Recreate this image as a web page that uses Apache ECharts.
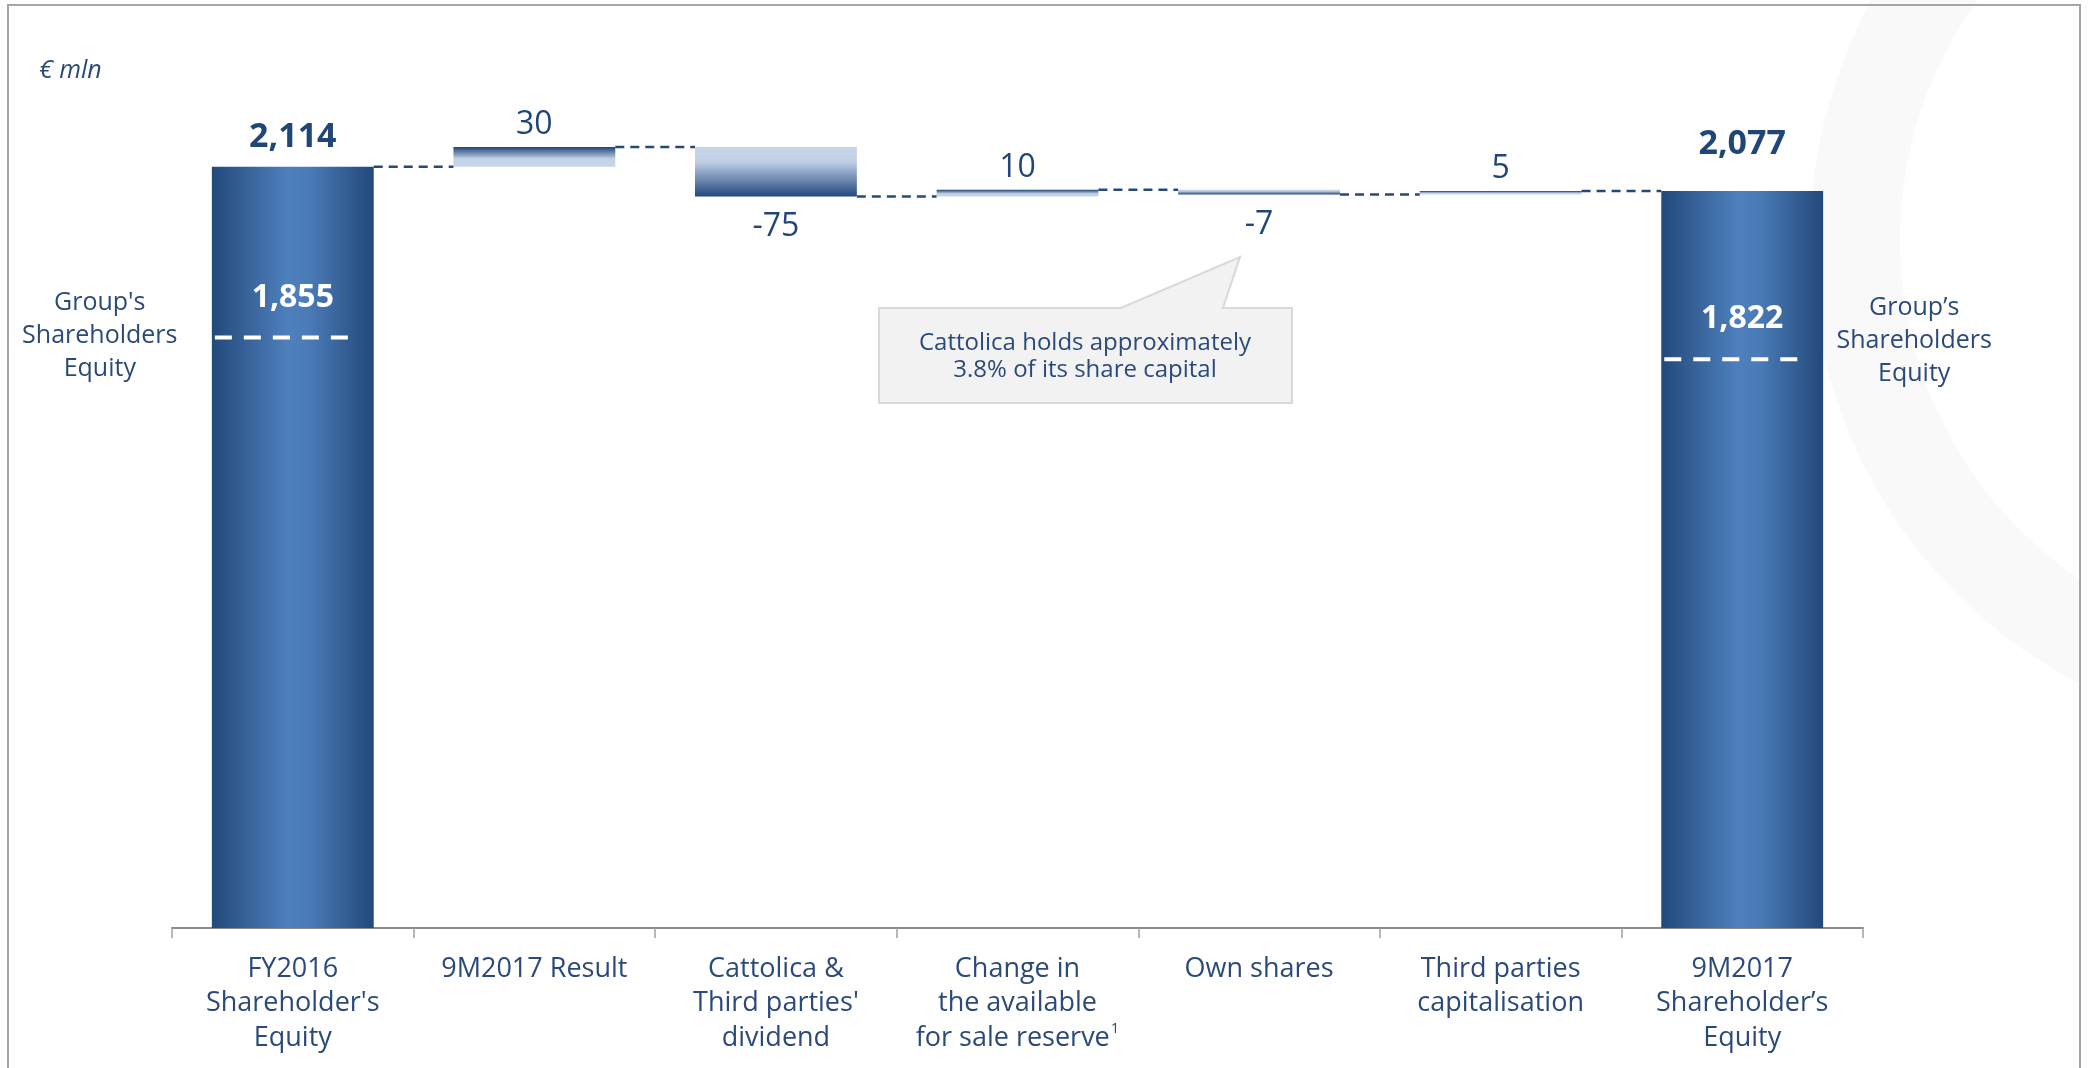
<!DOCTYPE html>
<html><head><meta charset="utf-8">
<script src="https://cdn.jsdelivr.net/npm/echarts@6/dist/echarts.min.js"></script>
<style>html,body{margin:0;padding:0;background:#fff}#c{width:2089px;height:1068px}</style>
</head><body><div id="c"></div><script>
// ---- data ----
const categories = ["FY2016\nShareholder's\nEquity", "9M2017 Result", "Cattolica &\nThird parties'\ndividend", "Change in\nthe available\nfor sale reserve{sup|1}", "Own shares", "Third parties\ncapitalisation", "9M2017\nShareholder\u2019s\nEquity"];
const startValue = 2114;
const changes = [30, -75, 10, -7, 5];
const endValue = 2077;
const groupEquityValues = [1855, 1822];
const groupEquityLabels = ["Group's\nShareholders\nEquity", "Group\u2019s\nShareholders\nEquity"];
const unitLabel = "\u20ac mln";
const calloutText = "Cattolica holds approximately\n3.8% of its share capital";

// ---- build waterfall ----
const NAVY = '#1f4677';
const TXT = '#2b4a7a';
const FONT = '"Open Sans", Lato, sans-serif';
const fmt = v => v.toLocaleString('en-US');

const totalGrad = new echarts.graphic.LinearGradient(0, 0, 1, 0, [
  {offset: 0, color: '#23497b'}, {offset: 0.47, color: '#4e80bd'},
  {offset: 0.6, color: '#4a7bb7'}, {offset: 1, color: '#23497b'}]);
const posGrad = new echarts.graphic.LinearGradient(0, 0, 0, 1, [
  {offset: 0, color: '#1c4275'}, {offset: 0.6, color: '#c3d2e6'}, {offset: 1, color: '#c6d5e9'}]);
const negGrad = new echarts.graphic.LinearGradient(0, 0, 0, 1, [
  {offset: 0, color: '#c6d5e9'}, {offset: 0.3, color: '#bfcfe5'}, {offset: 1, color: '#22487e'}]);

const totalLabel = (v, dist) => ({show: true, position: 'top', distance: dist, formatter: fmt(v),
  fontSize: 34, fontWeight: 'bold', color: NAVY});

const baseData = [0];
const visData = [{value: startValue, itemStyle: {color: totalGrad}, label: totalLabel(startValue, 12)}];
const levels = [startValue];
let run = startValue;
changes.forEach(c => {
  const lo = c >= 0 ? run : run + c;
  baseData.push(lo);
  visData.push({value: Math.abs(c), itemStyle: {color: c >= 0 ? posGrad : negGrad},
    label: {show: true, position: c >= 0 ? 'top' : 'bottom', distance: c >= 0 ? 6 : 14,
      formatter: String(c), fontSize: 32, color: NAVY}});
  run += c;
  levels.push(run);
});
baseData.push(0);
visData.push({value: endValue, itemStyle: {color: totalGrad}, label: totalLabel(endValue, 30)});

const connectorData = levels.map((v, i) => [i, v]);
const equityData = [[0, groupEquityValues[0], -1], [categories.length - 1, groupEquityValues[1], 1]];

const BARW = 0.67;
const chart = echarts.init(document.getElementById('c'), null, {renderer: 'canvas'});
chart.setOption({
  animation: false,
  backgroundColor: '#ffffff',
  textStyle: {fontFamily: FONT},
  grid: {left: 172, right: 226, top: 44, bottom: 140},
  xAxis: {
    type: 'category', data: categories,
    axisLine: {lineStyle: {color: '#8c8c8c', width: 2}},
    axisTick: {show: true, length: 10, lineStyle: {color: '#a0a0a0', width: 1.5}},
    axisLabel: {interval: 0, color: TXT, fontSize: 27, lineHeight: 34.5, margin: 24, fontFamily: FONT,
      rich: {sup: {fontSize: 15, color: TXT, verticalAlign: 'top', lineHeight: 34.5, padding: [0, 0, 12, 1]}}}
  },
  yAxis: {type: 'value', min: 960, max: 2300, show: false, splitLine: {show: false}},
  series: [
    {type: 'bar', stack: 'wf', data: baseData, barWidth: (BARW * 100) + '%',
      itemStyle: {color: 'transparent'}, silent: true},
    {type: 'bar', stack: 'wf', data: visData, barWidth: (BARW * 100) + '%', label: {fontFamily: FONT}},
    {type: 'custom', data: connectorData.slice(0, categories.length - 1), z: 5,
      renderItem: (params, api) => {
        const p = api.coord([api.value(0), api.value(1)]);
        const w = api.size([1, 0])[0];
        const half = w * BARW / 2;
        return {type: 'line', shape: {x1: p[0] + half, y1: p[1], x2: p[0] + w - half, y2: p[1]},
          style: {stroke: '#24497c', lineWidth: 2.5, lineDash: [9, 6]}};
      }},
    {type: 'custom', data: equityData, z: 6,
      renderItem: (params, api) => {
        const idx = params.dataIndex;
        const p = api.coord([api.value(0), api.value(1)]);
        const w = api.size([1, 0])[0];
        const half = w * BARW / 2;
        const side = api.value(2);
        return {type: 'group', children: [
          {type: 'line', shape: {x1: p[0] - half + 3, y1: p[1], x2: p[0] + half - 14, y2: p[1]},
            style: {stroke: '#ffffff', lineWidth: 4, lineDash: [17, 12]}},
          {type: 'text', x: p[0], y: p[1] - 40, style: {text: fmt(api.value(1)), fill: '#ffffff',
            font: 'bold 32px ' + FONT, align: 'center', verticalAlign: 'middle'}},
          {type: 'text', x: p[0] + (side < 0 ? -193 : 172), y: p[1] + (side < 0 ? -2 : -18),
            style: {text: groupEquityLabels[idx], fill: TXT, font: '25px ' + FONT, lineHeight: 33,
              align: 'center', verticalAlign: 'middle'}}
        ]};
      }}
  ],
  graphic: [
    {type: 'arc', z: -10, silent: true, shape: {cx: 2310, cy: 240, r: 455, startAngle: Math.PI * 0.5, endAngle: Math.PI * 1.5},
      style: {fill: 'none', stroke: '#f9f9f9', lineWidth: 90}},
    {type: 'rect', z: -9, silent: true, shape: {x: 2081, y: 0, width: 20, height: 1068}, style: {fill: '#ffffff'}},
    {type: 'rect', shape: {x: 8, y: 5, width: 2072, height: 1100}, style: {fill: 'none', stroke: '#a6a6a6', lineWidth: 2}, z: 100},
    {type: 'text', x: 39, y: 71, style: {text: unitLabel, fill: TXT, font: 'italic 25px ' + FONT, verticalAlign: 'middle'}},
    {type: 'polygon', shape: {points: [[879, 308], [1121, 308], [1240, 257], [1223, 308], [1292, 308], [1292, 403], [879, 403]]},
      style: {fill: '#f2f2f2', stroke: '#d9d9d9', lineWidth: 2}},
    {type: 'text', x: 1085, y: 357, style: {text: calloutText, fill: TXT, font: '24px ' + FONT, lineHeight: 27,
      align: 'center', verticalAlign: 'middle'}}
  ]
});
</script></body></html>
